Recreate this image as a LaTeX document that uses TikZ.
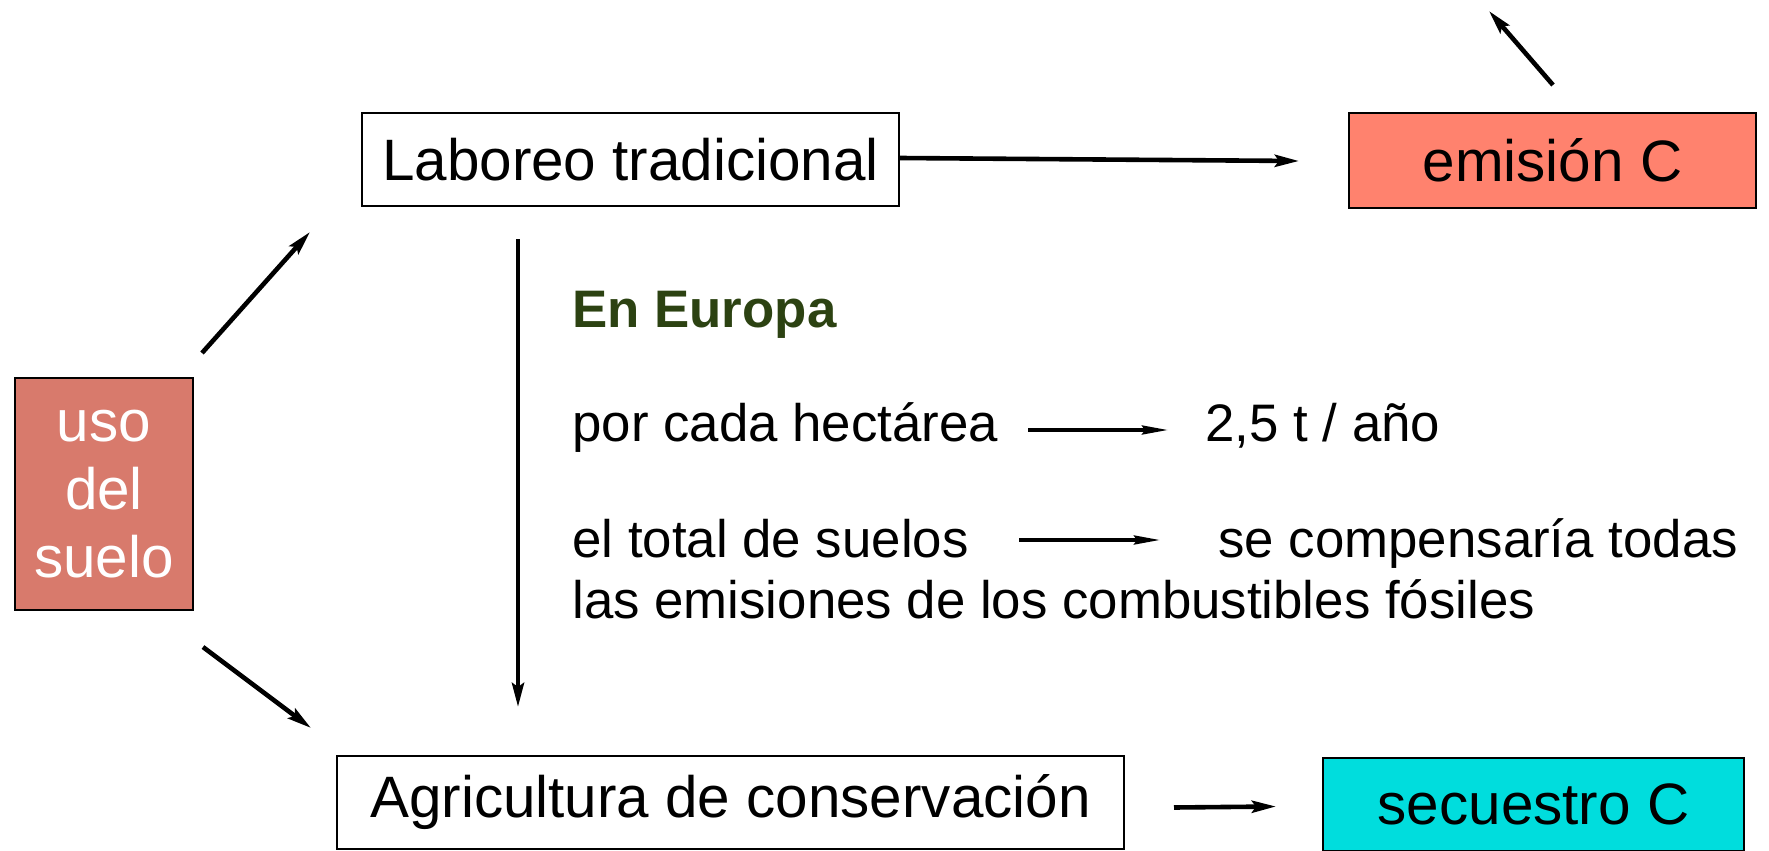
\documentclass[tikz,border=0pt]{standalone}
\usepackage{fontspec}
\setmainfont{Liberation Sans}
\usetikzlibrary{arrows.meta,positioning,calc}
\definecolor{usocol}{RGB}{216,122,108}
\definecolor{emicol}{RGB}{255,130,110}
\definecolor{seccol}{RGB}{0,221,221}
\definecolor{eurocol}{RGB}{44,66,18}

\begin{document}
\begin{tikzpicture}[
    x=0.5pt, y=-0.5pt,
    box/.style={draw, rectangle, line width=1pt, inner sep=0pt, align=center, font=\fontsize{29.2}{33.8}\selectfont},
    txt/.style={anchor=base west, inner sep=0pt, font=\fontsize{26.4}{30}\selectfont},
    bigarrow/.style={-{Stealth[length=12pt, width=6pt, inset=2pt]}, line width=2.3pt},
    smallarrow/.style={-{Stealth[length=13pt, width=4.5pt, inset=1.5pt]}, line width=1.8pt}
]
    \useasboundingbox (0,0) rectangle (1769,851);

    % boxes
    \node[box, fill=usocol, text=white, minimum width=89pt, minimum height=116pt] (uso) at (104,494) {uso\\del\\suelo};
    \node[box, minimum width=268.5pt, minimum height=46.5pt] (lab) at (630.5,159.5) {Laboreo tradicional};
    \node[box, fill=emicol, minimum width=203.5pt, minimum height=47.5pt] (emi) at (1552.5,160.5) {emisión C};
    \node[box, minimum width=393.5pt, minimum height=46.5pt] (agr) at (730.5,802.5) {Agricultura de conservación};
    \node[box, fill=seccol, minimum width=210.5pt, minimum height=46.5pt] (sec) at (1533.5,804.5) {secuestro C};

    % text in the middle
    \node[txt, font=\fontsize{26.4}{30}\selectfont\bfseries, text=eurocol] (eur) at (572,327) {En Europa};
    \node[txt] (ha) at (572,441) {por cada hectárea};
    \node[txt] (tasa) at (1205,441) {2,5 t / año};
    \node[txt] (tot) at (572,557) {el total de suelos};
    \node[txt] (comp) at (1218,557) {se compensaría todas};
    \node[txt] (fos) at (572,618) {las emisiones de los combustibles fósiles};

    % free ends
    \coordinate (u1) at (202,353);
    \coordinate (u2) at (310,232);
    \coordinate (d1) at (203,647);
    \coordinate (d2) at (311,728);
    \coordinate (v1) at (518,239);
    \coordinate (v2) at (518,707);
    \coordinate (e1) at (1553,85);
    \coordinate (e2) at (1489,11);

    \draw[bigarrow] (u1) -- (u2);
    \draw[bigarrow] (d1) -- (d2);
    \draw[bigarrow] ($(lab.east)+(0,-1.5)$) -- ($(emi.west)+(-49,0.5)$);
    \draw[bigarrow] (v1) -- (v2);
    \draw[bigarrow] (e1) -- (e2);
    \draw[bigarrow] ($(agr.east)+(49,5)$) -- ($(sec.west)+(-46,2)$);
    \draw[smallarrow] ($(ha.base east)+(30,-11)$) -- ($(tasa.base west)+(-37,-11)$);
    \draw[smallarrow] ($(tot.base east)+(50,-17)$) -- ($(comp.base west)+(-58,-17)$);
\end{tikzpicture}
\end{document}
